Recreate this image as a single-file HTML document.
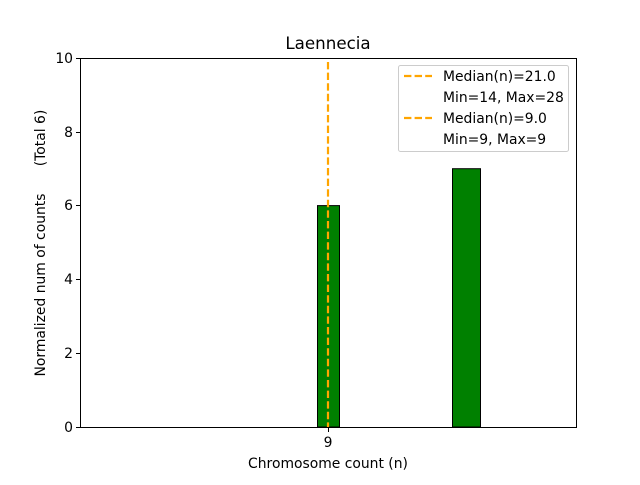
<!DOCTYPE html>
<html><head><style>
html,body{margin:0;padding:0;background:#fff;}
svg text{font-family:"DejaVu Sans","Liberation Sans",sans-serif;fill:#000;}
</style></head><body>
<svg width="640" height="480" viewBox="0 0 640 480" xmlns="http://www.w3.org/2000/svg">
<rect width="640" height="480" fill="#fff"/>
<text x="328" y="49" font-size="16.7" text-anchor="middle">Laennecia</text>
<rect x="317.5" y="205.6" width="22" height="221.4" fill="#008000" stroke="#000" stroke-width="1"/>
<rect x="452.5" y="168.7" width="28" height="258.3" fill="#008000" stroke="#000" stroke-width="1"/>
<line x1="328" y1="62" x2="328" y2="427" stroke="#FFA500" stroke-width="2.2" stroke-dasharray="7.4,3.2"/>
<rect x="80.5" y="58.5" width="496" height="369" fill="none" stroke="#000" stroke-width="1"/>
<g stroke="#000" stroke-width="1">
<line x1="76" y1="427.5" x2="80" y2="427.5"/>
<line x1="76" y1="353.5" x2="80" y2="353.5"/>
<line x1="76" y1="279.5" x2="80" y2="279.5"/>
<line x1="76" y1="205.5" x2="80" y2="205.5"/>
<line x1="76" y1="132.5" x2="80" y2="132.5"/>
<line x1="76" y1="58.5" x2="80" y2="58.5"/>
<line x1="328.5" y1="428" x2="328.5" y2="432"/>
</g>
<g font-size="13.9" text-anchor="end">
<text x="73" y="432">0</text>
<text x="73" y="358">2</text>
<text x="73" y="284">4</text>
<text x="73" y="210">6</text>
<text x="73" y="137">8</text>
<text x="73" y="63">10</text>
</g>
<text x="328" y="447" font-size="13.9" text-anchor="middle">9</text>
<text x="328" y="468" font-size="13.9" text-anchor="middle">Chromosome count (n)</text>
<text transform="translate(45,285) rotate(-90)" font-size="13.9" text-anchor="middle">Normalized num of counts</text>
<text transform="translate(45,138) rotate(-90)" font-size="13.9" text-anchor="middle">(Total 6)</text>
<rect x="398.5" y="65.5" width="170" height="86" rx="2" fill="#fff" fill-opacity="0.8" stroke="#ccc" stroke-width="1"/>
<line x1="404" y1="76" x2="432" y2="76" stroke="#FFA500" stroke-width="2.2" stroke-dasharray="7.4,3.2"/>
<line x1="404" y1="118" x2="432" y2="118" stroke="#FFA500" stroke-width="2.2" stroke-dasharray="7.4,3.2"/>
<g font-size="13.9">
<text x="443" y="81">Median(n)=21.0</text>
<text x="443" y="102">Min=14, Max=28</text>
<text x="443" y="123">Median(n)=9.0</text>
<text x="443" y="144">Min=9, Max=9</text>
</g>
</svg>
</body></html>
